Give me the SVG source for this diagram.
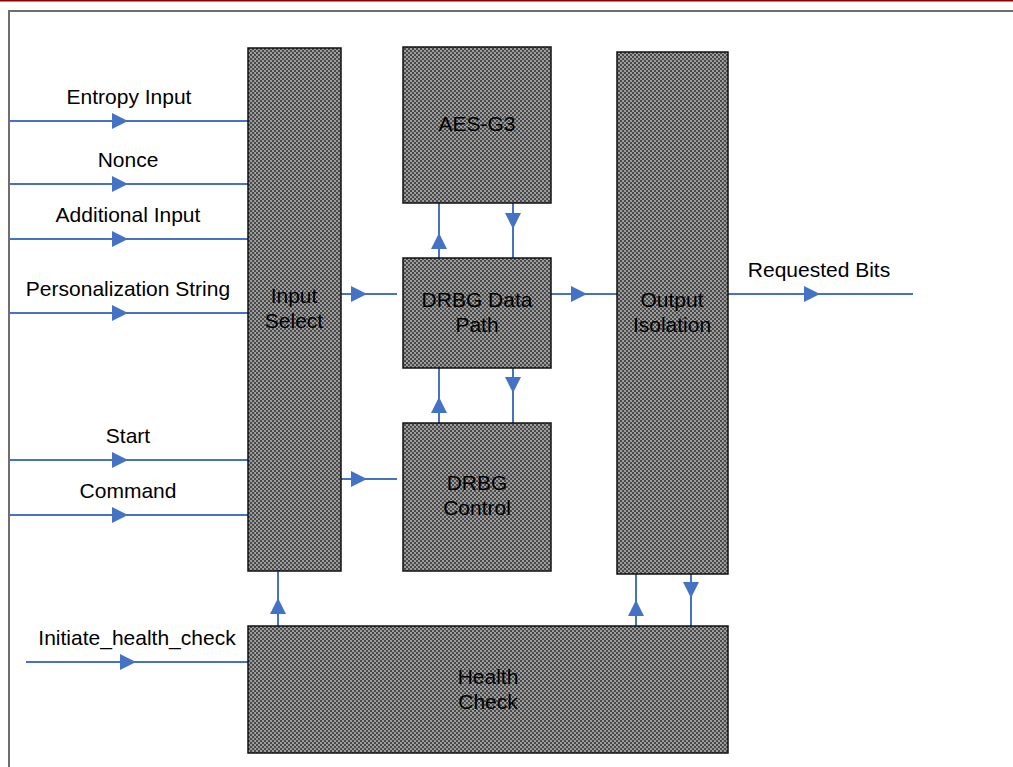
<svg xmlns="http://www.w3.org/2000/svg" width="1013" height="767" viewBox="0 0 1013 767">
<defs>
<pattern id="chk" width="4" height="4" patternUnits="userSpaceOnUse">
<rect width="4" height="4" fill="#9c9c9c"/>
<rect width="2" height="2" fill="#4a4a4a"/>
<rect x="2" y="2" width="2" height="2" fill="#4a4a4a"/>
</pattern>
<marker id="ah" viewBox="0 0 16 16" refX="16" refY="8" markerWidth="16" markerHeight="16" markerUnits="userSpaceOnUse" orient="auto">
<path d="M0,0 L16,8 L0,16 Z" fill="#4472C4"/>
</marker>
<style>
.blk{fill:url(#chk);stroke:#111;stroke-width:1.5}
.t{font-family:"Liberation Sans",Arial,sans-serif;font-size:21px;fill:#000;text-anchor:middle}
.c{stroke:#4472C4;stroke-width:2;fill:none}
</style>
</defs>
<rect width="1013" height="767" fill="#fff"/>
<line x1="0" y1="0.5" x2="1013" y2="0.5" stroke="#8b0000" stroke-width="2"/>
<path d="M9,767 V11 H1013" stroke="#6e6e6e" stroke-width="2" fill="none"/>

<g id="connectors">
<path class="c" d="M9,121 H248"/><path class="c" d="M9,121 H128" marker-end="url(#ah)"/>
<path class="c" d="M9,184 H248"/><path class="c" d="M9,184 H128" marker-end="url(#ah)"/>
<path class="c" d="M9,239 H248"/><path class="c" d="M9,239 H128" marker-end="url(#ah)"/>
<path class="c" d="M9,313 H248"/><path class="c" d="M9,313 H128" marker-end="url(#ah)"/>
<path class="c" d="M9,460 H248"/><path class="c" d="M9,460 H128" marker-end="url(#ah)"/>
<path class="c" d="M9,515 H248"/><path class="c" d="M9,515 H128" marker-end="url(#ah)"/>
<path class="c" d="M26,662 H248"/><path class="c" d="M26,662 H136" marker-end="url(#ah)"/>
<path class="c" d="M341,294 H397"/><path class="c" d="M341,294 H367" marker-end="url(#ah)"/>
<path class="c" d="M341,479 H397"/><path class="c" d="M341,479 H367" marker-end="url(#ah)"/>
<path class="c" d="M551,294 H625"/><path class="c" d="M551,294 H587" marker-end="url(#ah)"/>
<path class="c" d="M728,294 H913"/><path class="c" d="M728,294 H820" marker-end="url(#ah)"/>
<path class="c" d="M439,258 V203"/><path class="c" d="M439,258 V233" marker-end="url(#ah)"/>
<path class="c" d="M513,203 V258"/><path class="c" d="M513,203 V229" marker-end="url(#ah)"/>
<path class="c" d="M439,423 V368"/><path class="c" d="M439,423 V397" marker-end="url(#ah)"/>
<path class="c" d="M513,368 V423"/><path class="c" d="M513,368 V393" marker-end="url(#ah)"/>
<path class="c" d="M278,626 V571"/><path class="c" d="M278,626 V598" marker-end="url(#ah)"/>
<path class="c" d="M636,626 V574"/><path class="c" d="M636,626 V600" marker-end="url(#ah)"/>
<path class="c" d="M691,574 V626"/><path class="c" d="M691,574 V598" marker-end="url(#ah)"/>
</g>

<g id="labels">
<text class="t" x="129" y="104">Entropy Input</text>
<text class="t" x="128" y="167">Nonce</text>
<text class="t" x="128" y="222">Additional Input</text>
<text class="t" x="128" y="296">Personalization String</text>
<text class="t" x="128" y="443">Start</text>
<text class="t" x="128" y="498">Command</text>
<text class="t" x="137" y="645">Initiate_health_check</text>
<text class="t" x="819" y="277">Requested Bits</text>
</g>

<g id="input-select">
<rect class="blk" x="248" y="48" width="93" height="523"/>
<text class="t" x="294" y="303">Input</text>
<text class="t" x="294" y="328">Select</text>
</g>
<g id="aes-g3">
<rect class="blk" x="403" y="47" width="148" height="156"/>
<text class="t" x="477" y="131">AES-G3</text>
</g>
<g id="drbg-data-path">
<rect class="blk" x="403" y="258" width="148" height="110"/>
<text class="t" x="477" y="307">DRBG Data</text>
<text class="t" x="477" y="332">Path</text>
</g>
<g id="drbg-control">
<rect class="blk" x="403" y="423" width="148" height="148"/>
<text class="t" x="477" y="490">DRBG</text>
<text class="t" x="477" y="515">Control</text>
</g>
<g id="output-isolation">
<rect class="blk" x="617" y="52" width="111" height="522"/>
<text class="t" x="672" y="307">Output</text>
<text class="t" x="672" y="332">Isolation</text>
</g>
<g id="health-check">
<rect class="blk" x="248" y="626" width="480" height="127"/>
<text class="t" x="488" y="684">Health</text>
<text class="t" x="488" y="709">Check</text>
</g>
</svg>
